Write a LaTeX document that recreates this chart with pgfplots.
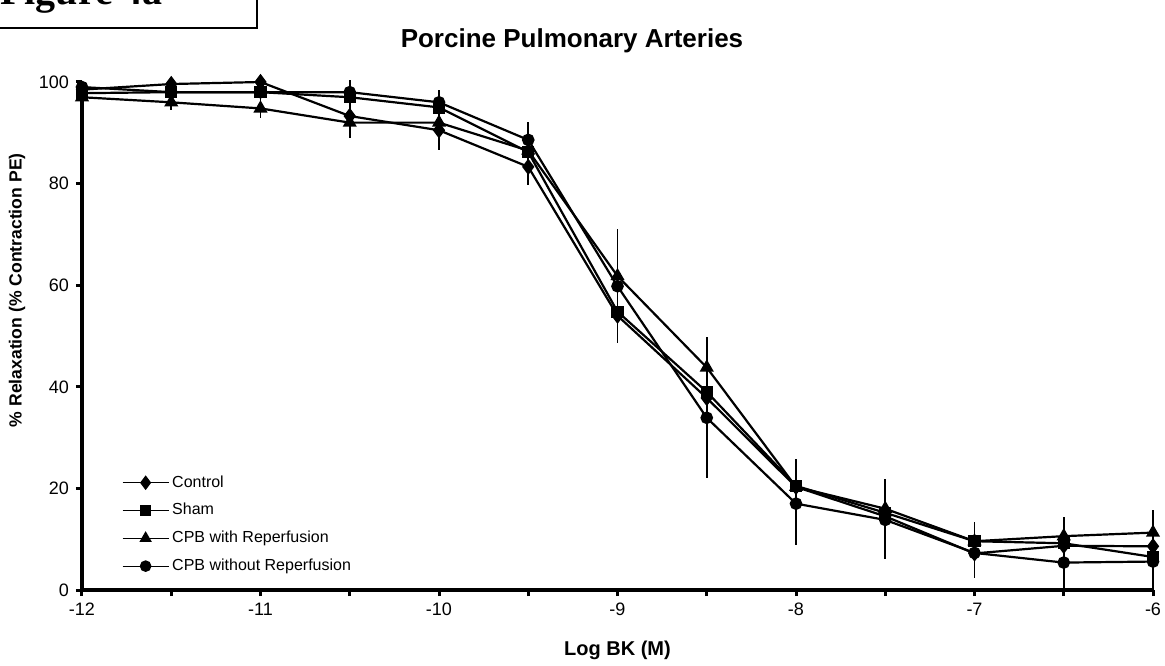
\documentclass[border=0pt]{standalone}
\usepackage{pgfplots}
\pgfplotsset{compat=1.18}
\usepackage{fontspec}
\setmainfont{Liberation Sans}
\newfontfamily\timesfont{Liberation Serif}

\begin{document}
\begin{tikzpicture}
\begin{axis}[
  scale only axis,
  width=535.5pt, height=254pt,
  at={(0,0)}, anchor=south west,
  xmin=-12, xmax=-6, ymin=0, ymax=100,
  axis lines=left,
  axis line style={-, line width=2pt},
  clip=false,
  xtick={-12,-11,...,-6},
  minor xtick={-11.5,-10.5,...,-6.5},
  ytick={0,20,...,100},
  tick align=outside,
  major tick length=3pt, minor tick length=3pt,
  tick style={line width=1.5pt, black},
  /pgf/number format/assume math mode=true,
  xticklabel={\pgfmathprintnumber[assume math mode=true]{\tick}},
  yticklabel={\pgfmathprintnumber[assume math mode=true]{\tick}},
  tick label style={font=\fontsize{9}{11}\selectfont},
  title={Porcine Pulmonary Arteries},
  title style={font=\bfseries\fontsize{13}{15}\selectfont, at={(axis description cs:0.4575,1.058)}, anchor=center},
  xlabel={Log BK (M)},
  xlabel style={font=\bfseries\fontsize{10}{12}\selectfont, at={(axis description cs:0.5,0)}, anchor=center, yshift=-30pt},
  ylabel={\% Relaxation (\% Contraction PE)},
  ylabel style={font=\bfseries\fontsize{8.8}{10}\selectfont, at={(axis description cs:-0.0607,0.59)}, anchor=center},
  every axis plot/.append style={black, line width=1.1pt},
  legend style={draw=none, fill=none, at={(axis description cs:0.037,0.024)}, anchor=south west,
    font=\fontsize{8}{10}\selectfont, row sep=2.6pt, inner sep=0pt, nodes={inner xsep=1.5pt}},
  legend cell align=left,
  legend image code/.code={\draw[line width=0.6pt, mark repeat=2, mark phase=2] plot coordinates {(0pt,0pt) (11.5pt,0pt) (23pt,0pt)};},
]
% error bars (drawn first, no line, no marks)
\addplot[forget plot, draw=none, mark=none, line width=0.9pt,
  error bars/.cd, y dir=both, y explicit, error mark=none,
  error bar style={line width=0.9pt, black}]
  coordinates {
  (-11.5,97.4) +- (0,3)
  (-11,96.9) +- (0,4)
  (-10.5,94.7) +- (0,5.7)
  (-10,92.5) +- (0,5.9)
  (-9.5,85.9) +- (0,6.2)
  (-9,59.8) +- (0,11.2)
  (-8.5,35.9) +- (0,13.9)
  (-8,17.3) +- (0,8.4)
  (-7.5,14) +- (0,7.9)
  (-7,7.9) +- (0,5.5)
  (-6.5,7.2) +- (0,7.2)
  (-6,7.85) +- (0,7.85)
  };
\addplot[mark=diamond*, mark size=3.2pt] coordinates {
  (-12,98.5) (-11.5,99.6) (-11,100) (-10.5,93.3) (-10,90.5) (-9.5,83.3)
  (-9,54) (-8.5,37.8) (-8,20.3) (-7.5,14.5) (-7,7.2) (-6.5,8.7) (-6,8.6)};
\addplot[mark=square*, mark size=2.5pt] coordinates {
  (-12,97.8) (-11.5,98) (-11,98) (-10.5,97) (-10,95) (-9.5,86.2)
  (-9,54.8) (-8.5,39) (-8,20.5) (-7.5,15.2) (-7,9.6) (-6.5,9.2) (-6,6.5)};
\addplot[mark=triangle*, mark size=3pt] coordinates {
  (-12,97) (-11.5,96) (-11,94.8) (-10.5,92) (-10,92) (-9.5,86.5)
  (-9,61.8) (-8.5,43.8) (-8,20.3) (-7.5,16) (-7,9.6) (-6.5,10.6) (-6,11.3)};
\addplot[mark=*, mark size=2.6pt] coordinates {
  (-12,99) (-11.5,98) (-11,98) (-10.5,98) (-10,96) (-9.5,88.6)
  (-9,59.8) (-8.5,33.9) (-8,17) (-7.5,13.8) (-7,7.3) (-6.5,5.4) (-6,5.6)};
\legend{Control, Sham, CPB with Reperfusion, CPB without Reperfusion}
\end{axis}
% "Figure 4a" box, cut off at the page top
\draw[line width=1pt] (-50pt,281pt) -- (87.5pt,281pt) -- (87.5pt,310pt);
\node[anchor=base west, inner sep=0pt, font=\timesfont\bfseries\fontsize{20}{24}\selectfont] at (-41pt,292.5pt) {Figure 4a};
\pgfresetboundingbox
\path[use as bounding box] (-41pt,-37.5pt) rectangle (541.5pt,295pt);
\end{tikzpicture}
\end{document}
